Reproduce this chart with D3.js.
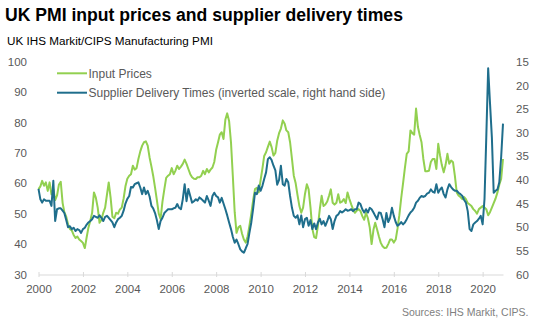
<!DOCTYPE html>
<html>
<head>
<meta charset="utf-8">
<script src="https://cdn.jsdelivr.net/npm/d3@7"></script>
<style>
  html, body { margin: 0; padding: 0; background: #fff; }
  svg { display: block; font-family: Arial, "Liberation Sans", sans-serif; }
</style>
</head>
<body>
<svg id="chart" width="537" height="324"></svg>
<script>
// ---- Data (monthly, Jan 2000 – Dec 2020) ----
const startYear = 2000;
const inputPrices = [
  58.1, 59, 60.8, 59.2, 60.3, 57.5, 60.3, 56.4, 58.1, 54.5, 56, 59.5,      // 2000
  60.5, 53.5, 50.5, 49, 46.5, 45, 44.5, 43, 42, 42.5, 41.5, 41,            // 2001
  40.4, 38.7, 42, 45.4, 47.6, 50.3, 57, 55.3, 52, 47, 48, 50.3,            // 2002
  52, 56.4, 60.3, 55.3, 49, 48.5, 50.3, 50, 51.4, 52, 55, 59,              // 2003
  61.5, 62.5, 63, 65.8, 64.5, 65, 68, 70.5, 72.4, 73.5, 73.8, 72.4,        // 2004
  68.5, 65.5, 62.5, 58.6, 54.5, 50, 48.3, 54, 58.1, 61.8, 62.5, 63,        // 2005
  65, 63, 64.1, 65.8, 64.7, 65.5, 66.4, 67.8, 66.4, 64.7, 63, 62,          // 2006
  61.5, 61.4, 62, 62, 62.5, 64.1, 63, 64.7, 63.6, 64.5, 65.2, 67,          // 2007
  71, 73.5, 76, 76.8, 74.6, 81, 83, 80.5, 73.5, 62.5, 50.5, 43.7,          // 2008
  45.5, 46, 43.5, 41.5, 40.5, 42.5, 46, 50, 54.5, 58.1, 58.5, 57,          // 2009
  61, 65, 69, 70.2, 72, 73.7, 71.9, 69.1, 70, 74, 76.5, 78,                // 2010
  80.7, 79.6, 77.4, 76.8, 73.5, 68, 62.5, 60, 56, 52.5, 50.3, 52,          // 2011
  56.5, 59.7, 58, 52, 45, 42.3, 42, 46, 51.5, 55.9, 52.5, 53,              // 2012
  54, 56, 58, 53.6, 53, 53.6, 56.4, 53.6, 54, 54.8, 53.5, 57,              // 2013
  54.8, 53, 51.5, 50.3, 51, 51.5, 50.9, 49.2, 48, 50.3, 48.5, 45.5,        // 2014
  40, 44.8, 47, 44.8, 42.5, 40.4, 39.3, 38.7, 38.8, 40, 41.5, 41.5,        // 2015
  40.5, 41.5, 45, 49.5, 55, 60, 65, 69.7, 70.5, 77.4, 76.5, 76,            // 2016
  84.6, 78.5, 76, 73.5, 68, 64, 64, 64.1, 67, 68, 68, 64.7,                // 2017
  73, 69, 66, 63.6, 66, 69.7, 66.4, 67.5, 66.9, 62.5, 57, 56,              // 2018
  55.5, 54.8, 55.5, 54.8, 53.5, 53, 52.5, 51.5, 50.9, 50, 51.5, 52,        // 2019
  52.5, 52, 51.5, 49.5, 50.5, 52, 53.5, 55, 57, 59.5, 61.5, 68             // 2020
];
const deliveryTimes = [
  41.9, 44.1, 44.8, 44.1, 44.4, 44.4, 44.4, 45.5, 40.2, 48.7, 46.2, 46,    // 2000
  46, 46.5, 47, 48.5, 50, 49.8, 50.4, 50.1, 50.8, 50.4, 50.6, 51.2,        // 2001
  50.4, 50.1, 49.5, 49, 48.7, 48.3, 47.6, 47.8, 48, 47.5, 48, 48.7,        // 2002
  47.8, 47.6, 48, 48.5, 49, 50, 49, 48.3, 48, 47.6, 46.5, 45,              // 2003
  44, 43.4, 41.5, 41.6, 40.9, 40.7, 40.5, 41.6, 43, 41.6, 43, 42.3,        // 2004
  43.5, 45.5, 46, 47, 48.5, 50.4, 48.7, 48, 47, 46.6, 46.2, 46.2,          // 2005
  46.2, 46, 45.9, 45.1, 45.9, 46.2, 44.1, 40.9, 44.5, 41.9, 43.4, 44.8,    // 2006
  44.5, 44.1, 44.4, 43.7, 44, 44.4, 44.8, 43.4, 44.4, 45.5, 43.4, 42.7,    // 2007
  43.4, 43.7, 44.8, 43.8, 45, 46.2, 47.5, 49, 50.4, 52, 53.3, 52.6,        // 2008
  53.6, 54.7, 55.1, 55.4, 54.5, 53.5, 51.2, 49, 46, 42.7, 43, 41.2,        // 2009
  42.3, 41.2, 39.8, 38.4, 35.6, 35.2, 35.8, 37, 38, 41, 40, 37,            // 2010
  40.9, 41.2, 39.8, 40.5, 43.4, 45.9, 47.6, 48, 47.5, 49.4, 47.5, 50,      // 2011
  48.3, 48, 49.7, 48.5, 50.4, 49.2, 50.4, 49, 48.2, 49.4, 48.7, 49.7,      // 2012
  48.7, 47.6, 48.3, 50.4, 48.7, 47.6, 47.3, 46.6, 46.9, 46.6, 46.2, 46.5,  // 2013
  46.4, 46.2, 46.6, 46.2, 46.2, 44.8, 45.1, 46.2, 46.9, 46.2, 46.9, 45.9,  // 2014
  46.2, 46.9, 47.6, 48.3, 46.9, 47, 48.3, 50, 47, 48.9, 48, 45.9,          // 2015
  47.6, 48.9, 49.7, 49.4, 48.9, 49.4, 49, 48.3, 47.5, 46.9, 46.5, 45.9,    // 2016
  44.8, 44.4, 43.8, 43.4, 43.6, 43.4, 42.9, 42.7, 42, 42.5, 42.7, 40.9,    // 2017
  42.7, 42, 41.6, 43, 43.7, 42, 40.9, 41.5, 42, 42.3, 42.3, 42.7,          // 2018
  43, 43.4, 44.2, 44.8, 46.6, 50.4, 50.8, 49.4, 49, 48.7, 48.2, 47.6,      // 2019
  49.4, 44, 31, 16.4, 23.7, 31, 42.7, 42.3, 42, 40.5, 35.1, 28.1           // 2020
];
const leftTicks = [30, 40, 50, 60, 70, 80, 90, 100];
const rightTicks = [15, 20, 25, 30, 35, 40, 45, 50, 55, 60];
const yearTicks = [2000, 2002, 2004, 2006, 2008, 2010, 2012, 2014, 2016, 2018, 2020];
const seriesNames = ["Input Prices", "Supplier Delivery Times (inverted scale, right hand side)"];
const titleText = "UK PMI input prices and supplier delivery times";
const subtitleText = "UK IHS Markit/CIPS Manufacturing PMI";
const sourceText = "Sources: IHS Markit, CIPS.";

// ---- Build ----
const months = inputPrices.map((_, i) => new Date(startYear, i, 1));
const green = "#92d050", blue = "#1f6e8c", labelColor = "#595959";

const svg = d3.select("#chart");
const x = d3.scaleTime()
  .domain([months[0], months[months.length - 1]])
  .range([38.5, 503]);
const yL = d3.scaleLinear().domain([30, 100]).range([274.5, 61.7]);
const yR = d3.scaleLinear().domain([15, 60]).range([61.7, 274.5]);

// Title & subtitle
svg.append("text").attr("x", 5).attr("y", 21)
  .attr("font-size", 17.6).attr("font-weight", "bold").attr("fill", "#000")
  .text(titleText);
svg.append("text").attr("x", 7).attr("y", 45)
  .attr("font-size", 11.7).attr("fill", "#000")
  .text(subtitleText);

// X axis
const xAxis = d3.axisBottom(x)
  .tickValues(yearTicks.map(y => new Date(y, 0, 1)))
  .tickFormat(d3.timeFormat("%Y"))
  .tickSize(0).tickPadding(10);
const gx = svg.append("g").attr("transform", "translate(0,274.5)").call(xAxis);
gx.select(".domain").attr("stroke", "#d9d9d9").attr("stroke-width", 1);
gx.selectAll(".tick text").attr("font-size", 11.5).attr("fill", labelColor)
  .attr("font-family", "Arial, 'Liberation Sans', sans-serif");
gx.selectAll(".tick").append("line")
  .attr("y1", -2.5).attr("y2", 2.5).attr("stroke", "#d9d9d9");

// Left axis
const gl = svg.append("g").attr("transform", "translate(27,0)")
  .call(d3.axisLeft(yL).tickValues(leftTicks).tickSize(0).tickPadding(0));
gl.select(".domain").remove();
gl.selectAll(".tick text").attr("font-size", 11.5).attr("fill", labelColor)
  .attr("font-family", "Arial, 'Liberation Sans', sans-serif");

// Right axis
const gr = svg.append("g").attr("transform", "translate(516,0)")
  .call(d3.axisRight(yR).tickValues(rightTicks).tickSize(0).tickPadding(0));
gr.select(".domain").remove();
gr.selectAll(".tick text").attr("font-size", 11.5).attr("fill", labelColor)
  .attr("font-family", "Arial, 'Liberation Sans', sans-serif");

// Lines
const lineL = d3.line().x((d, i) => x(months[i])).y(d => yL(d));
const lineR = d3.line().x((d, i) => x(months[i])).y(d => yR(d));
svg.append("path").datum(inputPrices).attr("d", lineL)
  .attr("fill", "none").attr("stroke", green).attr("stroke-width", 2)
  .attr("stroke-linejoin", "round");
svg.append("path").datum(deliveryTimes).attr("d", lineR)
  .attr("fill", "none").attr("stroke", blue).attr("stroke-width", 2)
  .attr("stroke-linejoin", "round");

// Legend
const legend = svg.append("g");
[green, blue].forEach((c, i) => {
  const yy = 73.3 + i * 19.4;
  legend.append("line").attr("x1", 57).attr("x2", 87).attr("y1", yy).attr("y2", yy)
    .attr("stroke", c).attr("stroke-width", 2);
  legend.append("text").attr("x", 88.5).attr("y", yy + 4.2)
    .attr("font-size", 12).attr("fill", labelColor).text(seriesNames[i]);
});

// Source
svg.append("text").attr("x", 528.5).attr("y", 315.5).attr("text-anchor", "end")
  .attr("font-size", 10.5).attr("fill", "#808080").text(sourceText);
</script>
</body>
</html>
